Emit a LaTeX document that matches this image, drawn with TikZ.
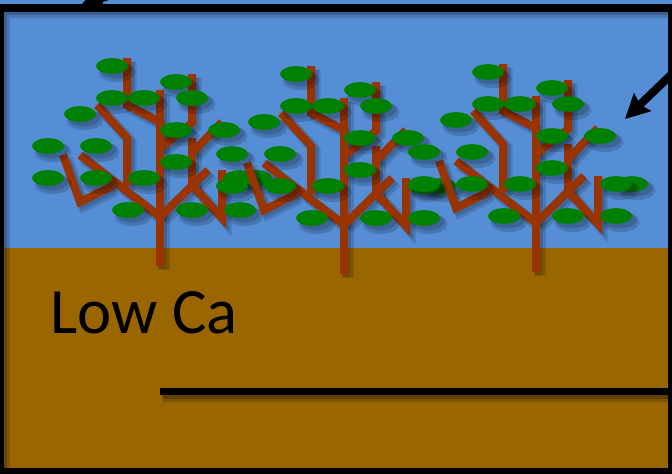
\documentclass[tikz,border=0pt]{standalone}
\usepackage{fontspec}
\setmainfont{Carlito}
\usetikzlibrary{arrows.meta}
\definecolor{skyblue}{RGB}{85,142,213}
\definecolor{soilbrown}{RGB}{153,102,0}
\definecolor{barkred}{RGB}{153,51,0}
\definecolor{leafgreen}{RGB}{0,128,0}

% one tree, trunk base at (160,266); drawn with the style given
\newcommand{\branchpaths}[1]{%
  \draw[#1] (160,266) -- (160,90);
  \draw[#1] (160,217) -- (80,155);
  \draw[#1] (160,217) -- (208,170);
  \draw[#1] (127,186) -- (127,138) -- (97,105);
  \draw[#1] (112,186) -- (80,202) -- (63,155);
  \draw[#1] (160,122) -- (127,105) -- (127,58);
  \draw[#1] (160,148) -- (192,123) -- (192,74);
  \draw[#1] (192,185) -- (192,138);
  \draw[#1] (192,153) -- (222,122);
  \draw[#1] (192,185) -- (222,218) -- (222,170);
}

\begin{document}
\begin{tikzpicture}[x=0.25mm, y=-0.25mm,
    branch/.style={draw=barkred, line width=2mm},
    branchshade/.style={draw=black, line width=2.8mm, opacity=.14},
    leaf/.style={fill=leafgreen},
    leafshade/.style={fill=black, opacity=.16},
    frameline/.style={draw=black, line width=2mm},
    pointer/.style={->, line width=2mm},
    >={Stealth[length=6mm, width=6mm, inset=0.8mm]}
]
\useasboundingbox (0,0) rectangle (672,473);
\clip (0,0) rectangle (672,473);

% sky and soil
\fill[skyblue] (0,0) rectangle (672,248);
\fill[soilbrown] (0,248) rectangle (672,473);

% three trees
\foreach \dx/\dy in {0/0, 184/8, 376/6} {
  \begin{scope}[shift={(\dx,\dy)}]
    \begin{scope}[shift={(4,4)}]
      \branchpaths{branchshade}
    \end{scope}
    \begin{scope}[shift={(3,3)}]
      \branchpaths{branchshade, line width=2mm}
    \end{scope}
    \branchpaths{branch}
    \foreach \lx/\ly in {112/66, 176/82, 112/98, 144/98, 192/98, 80/114,
        176/130, 224/130, 48/146, 96/146, 176/162, 48/178, 96/178,
        144/178, 256/178, 240/178, 128/210, 192/210, 240/210} {
      \fill[leafshade] (\lx+5,\ly+6) ellipse [x radius=4.6mm, y radius=2.5mm];
      \fill[leafshade] (\lx+4,\ly+4) ellipse [x radius=4.1mm, y radius=2.1mm];
      \fill[leaf] (\lx,\ly) ellipse [x radius=4mm, y radius=1.95mm];
    }
  \end{scope}
}

% arrows coming in from outside
\coordinate (toptail) at (180,-30);
\coordinate (toptip) at (80,6);
\coordinate (righttail) at (700,47);
\coordinate (righttip) at (625,119);
\begin{scope}[shift={(3,5)}, opacity=.25]
  \draw[pointer] (toptail) -- (toptip);
  \draw[pointer] (righttail) -- (righttip);
\end{scope}
\draw[pointer] (toptail) -- (toptip);
\draw[pointer] (righttail) -- (righttip);

% divider in the soil
\coordinate (ruleL) at (160,391.5);
\coordinate (ruleR) at (672,391.5);
\draw[black, opacity=.18, line width=2.4mm] ([shift={(3,6)}]ruleL) -- ([shift={(3,6)}]ruleR);
\draw[black, opacity=.22, line width=1.75mm] ([shift={(2,4)}]ruleL) -- ([shift={(2,4)}]ruleR);
\draw[black, line width=1.75mm] (ruleL) -- (ruleR);

\node[anchor=base west, inner sep=0, font=\fontsize{46}{52}\selectfont] (lowca) at (50,333) {Low Ca};

% frame with its inner shadow
\draw[frameline, opacity=.15, line width=3mm] (4,12) rectangle (676,476);
\draw[frameline, opacity=.2] (3,11) rectangle (675,475);
\draw[frameline] (0,8) rectangle (672,472);
\end{tikzpicture}
\end{document}
